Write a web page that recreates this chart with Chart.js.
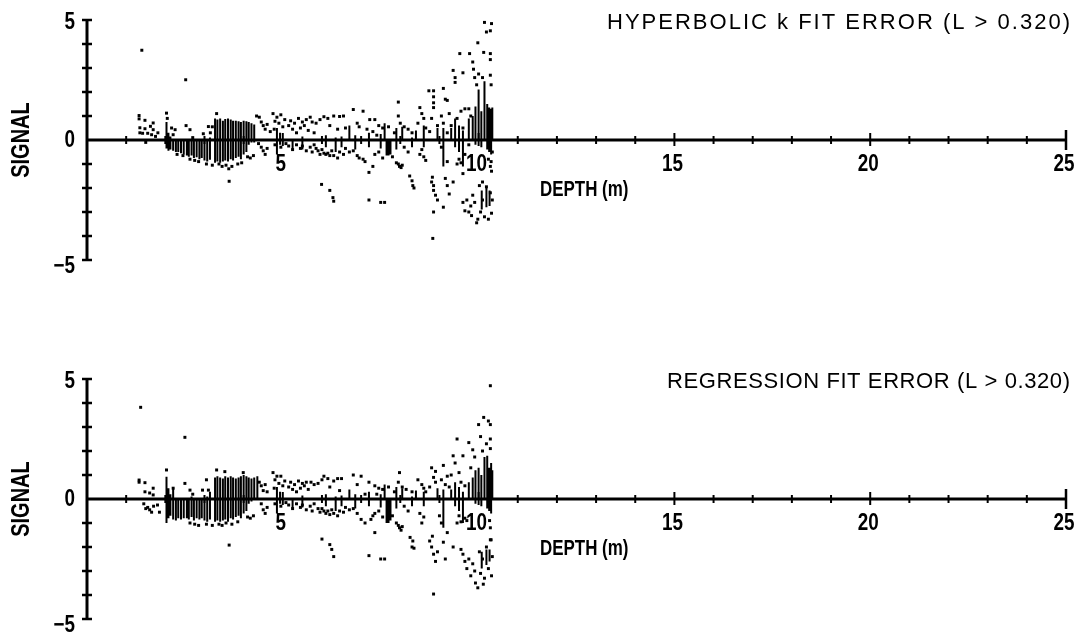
<!DOCTYPE html>
<html>
<head>
<meta charset="utf-8">
<script src="https://cdn.jsdelivr.net/npm/chart.js@4.4.1/dist/chart.umd.min.js"></script>
<style>
  html, body { margin: 0; padding: 0; background: #fff; }
  #wrap { position: relative; width: 1086px; height: 633px; }
  canvas { position: absolute; left: 0; }
</style>
</head>
<body>
<div id="wrap">
  <canvas id="hyperbolic" width="1086" height="316" style="top:0"></canvas>
  <canvas id="regression" width="1086" height="317" style="top:316px"></canvas>
</div>
<script>
// Axis ranges and labelled ticks
const DEPTH_MIN = 0, DEPTH_MAX = 25;
const SIGNAL_MIN = -5, SIGNAL_MAX = 5;
const DEPTH_LABELS = [5, 10, 15, 20, 25];
const SIGNAL_LABELS = [5, 0, -5];
const X_TITLE = "DEPTH (m)";
const Y_TITLE = "SIGNAL";
const HYPERBOLIC_TITLE = "HYPERBOLIC k FIT ERROR (L > 0.320)";
const REGRESSION_TITLE = "REGRESSION FIT ERROR (L > 0.320)";

// Hyperbolic k fit error: single samples [depth, signal]
const hyperbolicDots = [
  [1.40,3.74],[1.33,1.02],[1.33,0.88],[1.35,0.51],[1.35,0.30],[1.48,0.82],[1.48,0.47],[1.42,0.28],[1.55,0.28],
  [1.62,0.57],[1.65,0.22],[1.69,0.71],[1.69,0.43],[1.81,0.30],[1.75,0.15],[1.50,-0.10],
  [2.03,1.12],[2.05,0.90],[2.16,0.50],[2.20,0.22],[2.25,0.43],[2.53,0.60],[2.63,0.43],[2.52,2.51],[2.30,-0.60],[2.45,-0.65],
  [2.63,-0.80],[2.75,-0.85],[2.85,-0.90],[2.97,0.26],[3.10,0.56],[2.70,0.10],
  [3.31,1.10],[3.05,-1.00],[3.20,-1.05],[3.37,-1.00],[3.45,-1.10],[3.20,0.55],[3.15,0.30],
  [3.63,-1.72],[3.55,-1.05],[3.70,-1.10],[3.85,-1.00],[3.62,-1.20],[3.95,-0.95],
  [4.33,1.00],[4.40,0.95],[4.45,0.75],[4.50,0.60],[4.55,0.45],[4.60,0.65],[4.68,0.35],[4.10,-0.70],[4.17,-0.75],
  [4.25,-0.65],[4.45,-0.30],[4.50,-0.45],[4.55,-0.60],[4.60,-0.35],[4.38,-0.15],
  [4.75,1.10],[4.80,0.78],[4.85,0.95],[4.90,0.70],[4.95,1.05],[5.00,0.55],[5.05,0.85],[4.78,0.45],[4.95,-0.30],[5.08,-0.15],[4.80,-0.20],
  [5.15,0.60],[5.20,0.80],[5.25,0.45],[5.30,0.70],[5.40,0.90],[5.45,0.50],[5.50,0.75],[5.55,0.60],[5.60,0.85],[5.70,0.95],
  [5.75,0.75],[5.85,0.70],[5.95,0.85],[5.35,0.30],[5.65,0.40],[5.80,0.30],
  [5.15,-0.25],[5.25,-0.40],[5.35,-0.20],[5.45,-0.35],[5.50,-0.25],[5.60,-0.45],[5.70,-0.30],[5.75,-0.50],[5.80,-0.20],
  [5.90,-0.45],[5.95,-0.60],[5.85,-0.35],
  [6.05,0.97],[6.15,0.90],[6.30,1.00],[6.45,0.98],[6.55,1.00],[6.20,0.60],[6.40,0.45],[6.60,0.50],[6.80,1.27],[6.90,0.70],[6.95,0.55],
  [6.00,-0.40],[6.05,-0.55],[6.10,-0.60],[6.15,-0.55],[6.20,-0.65],[6.25,-0.45],[6.30,-0.65],[6.40,-0.75],[6.45,-0.50],
  [6.55,-0.60],[6.60,-0.35],[6.70,-0.50],[6.80,-0.45],[6.90,-0.65],[6.95,-0.75],[5.99,-1.85],[6.20,-2.10],[6.28,-2.40],[6.30,-2.55],
  [7.05,1.20],[7.22,0.85],[7.35,0.85],[7.15,0.45],[7.30,0.35],[7.45,0.60],[7.55,0.50],[7.70,0.55],[7.85,0.30],[7.95,1.58],[7.95,1.00],[7.40,0.20],
  [7.05,-0.80],[7.10,-0.90],[7.20,-1.35],[7.30,-1.10],[7.35,-0.60],[7.45,-0.50],[7.55,-0.75],[7.80,-0.70],[7.20,-2.50],
  [7.50,-2.60],[7.60,-2.60],[7.95,-1.00],[7.98,-1.10],[8.02,-1.15],[8.05,-1.05],[7.90,-0.95],
  [8.00,0.70],[8.10,0.55],[8.20,0.45],[8.30,0.30],[8.50,1.35],[8.55,1.10],[8.60,0.90],[8.45,0.70],[8.65,0.50],[8.73,2.05],
  [8.85,2.05],[8.85,1.80],[8.85,1.55],[8.85,1.35],[8.80,0.90],[8.95,0.60],[8.75,0.35],
  [8.10,-0.30],[8.20,-0.50],[8.24,-1.50],[8.30,-1.70],[8.32,-1.90],[8.35,-2.00],[8.55,-0.40],[8.60,-0.70],[8.65,-0.85],
  [8.80,-1.75],[8.85,-1.90],[8.85,-2.10],[8.90,-2.30],[8.82,-1.55],[8.85,-3.00],[8.83,-4.10],[8.95,-2.50],[8.50,-0.60],
  [9.10,2.15],[9.15,1.70],[9.20,1.65],[9.35,2.90],[9.40,2.60],[9.40,2.40],[9.52,3.60],[9.60,2.80],[9.05,1.00],[9.10,0.70],
  [9.25,1.10],[9.30,0.60],[9.45,0.90],[9.55,1.20],[9.65,1.30],[9.60,0.50],[9.20,0.30],
  [9.05,-0.30],[9.15,-1.60],[9.20,-1.90],[9.25,-2.25],[9.10,-2.80],[9.35,-1.75],[9.50,-0.80],[9.55,-0.95],[9.65,-0.60],
  [9.45,-1.00],[9.20,-0.90],[9.60,-1.40],
  [9.77,3.60],[9.85,3.25],[9.87,2.95],[9.90,2.60],[9.98,4.05],[10.15,4.90],[10.20,4.50],[10.30,4.55],[10.33,4.85],
  [10.13,3.65],[10.30,3.60],[10.30,3.35],[10.30,2.70],[10.32,2.30],[10.10,2.60],[9.95,2.30],[10.00,2.75],[9.75,1.30],[9.80,1.00],
  [9.75,-0.20],[10.25,-0.80],[10.30,-1.10],[10.35,-0.50],[10.32,-0.90],[10.33,-1.30],
  [9.60,-2.60],[9.65,-2.95],[9.70,-2.50],[9.80,-2.75],[9.82,-3.15],[9.85,-2.30],[9.90,-2.60],[9.95,-3.45],[9.98,-3.30],
  [10.02,-1.90],[10.05,-3.00],[10.10,-2.50],[10.15,-3.20],[10.20,-1.95],[10.25,-3.30],[10.30,-2.20],[10.33,-3.05],
  [10.35,-2.50],[10.10,-1.75],[9.75,-3.00]
];

// Hyperbolic k fit error: densely sampled runs [depth, low, high]
const hyperbolicRuns = [
  [2.03,-0.35,0.75],[2.08,-0.45,0.30],[2.13,-0.40,0.15],[2.20,-0.45,0.00],[2.27,-0.50,0.00],[2.33,-0.50,0.00],
  [2.40,-0.55,0.00],[2.47,-0.60,0.00],[2.55,-0.65,0.00],[2.60,-0.70,0.00],[2.67,-0.65,0.00],[2.73,-0.75,0.00],
  [2.80,-0.72,0.00],[2.87,-0.80,0.00],[2.93,-0.75,0.00],[3.00,-0.85,0.00],[3.07,-0.90,0.00],[3.14,-0.82,0.10],
  [3.27,-0.95,0.90],[3.33,-0.90,0.85],[3.40,-0.95,0.90],[3.47,-0.90,0.80],[3.53,-0.85,0.88],[3.60,-0.90,0.90],
  [3.67,-0.80,0.85],[3.73,-0.85,0.80],[3.80,-0.75,0.80],[3.87,-0.70,0.78],[3.93,-0.80,0.75],[4.00,-0.60,0.80],
  [4.07,-0.50,0.78],[4.13,-0.20,0.75],[4.20,-0.10,0.70],[4.27,-0.10,0.65],[4.85,-0.60,0.50],[4.93,-0.20,0.30],
  [5.25,-0.45,0.00],[5.50,-0.40,0.15],[6.70,0.00,0.60],[6.10,-0.30,0.20],[6.35,-0.50,0.10],[6.50,-0.30,0.15],
  [6.85,-0.40,0.20],[7.20,-0.30,0.30],[7.60,0.00,0.70],[7.65,-0.65,0.00],[7.70,-0.65,0.00],[7.75,-0.60,0.00],
  [7.90,-0.40,0.50],[7.50,-0.35,0.25],[8.05,0.00,0.55],[8.40,0.00,0.40],[8.60,-0.30,0.60],[8.95,0.00,0.50],
  [8.30,-0.30,0.10],[9.10,-1.10,0.50],[9.40,-0.30,0.90],[9.50,-0.50,0.60],[9.60,-1.10,0.40],[9.30,0.00,0.50],
  [9.75,0.00,0.90],[9.85,0.00,1.00],[9.92,-0.20,1.40],[10.00,0.00,2.10],[10.07,-0.30,1.20],[10.15,0.00,2.45],
  [10.22,-0.40,1.50],[10.27,-0.50,1.35],[10.32,-0.60,1.30],[10.35,0.00,1.35],
  [10.08,-2.90,-2.10],[10.20,-2.80,-2.00],[10.28,-2.75,-2.10]
];

// Regression fit error: single samples [depth, signal]
const regressionDots = [
  [1.37,3.82],[1.33,0.79],[1.33,0.70],[1.48,0.68],[1.48,0.30],[1.69,0.45],[1.69,0.17],[1.60,0.25],
  [1.45,-0.20],[1.55,-0.35],[1.60,-0.45],[1.70,-0.30],[1.50,-0.40],[1.80,-0.25],[1.85,-0.55],[1.65,-0.55],
  [2.03,1.21],[2.20,0.45],[2.50,0.65],[2.63,0.37],[2.50,2.57],[2.10,-0.40],
  [2.63,-1.00],[2.75,-1.05],[2.85,-1.10],[2.95,0.37],[3.10,0.37],[3.05,0.80],[2.70,0.20],
  [3.31,1.21],[3.05,-1.05],[3.20,-1.10],[3.37,-1.05],[3.45,-1.10],[3.52,1.14],
  [3.63,-1.92],[3.55,-1.00],[3.70,-1.05],[3.85,-0.95],[3.99,1.10],
  [4.40,0.70],[4.45,0.55],[4.50,0.35],[4.55,0.60],[4.60,0.30],[4.10,-0.75],[4.17,-0.80],[4.25,-0.70],[4.45,-0.20],
  [4.50,-0.45],[4.55,-0.60],[4.60,-0.35],
  [4.75,1.10],[4.80,0.80],[4.85,0.95],[4.90,0.65],[4.95,0.95],[5.00,0.55],[5.05,0.75],[4.78,0.45],[4.95,-0.30],[5.08,-0.15],[4.80,-0.20],
  [5.15,0.50],[5.20,0.70],[5.25,0.40],[5.30,0.60],[5.40,0.75],[5.45,0.45],[5.50,0.65],[5.55,0.55],[5.60,0.70],[5.72,0.70],
  [5.80,0.60],[5.90,0.65],[6.00,0.80],[5.35,0.30],[5.65,0.40],
  [5.15,-0.25],[5.25,-0.40],[5.35,-0.20],[5.45,-0.35],[5.50,-0.25],[5.60,-0.45],[5.70,-0.30],[5.75,-0.50],[5.80,-0.20],
  [5.90,-0.40],[5.95,-0.55],
  [6.05,0.95],[6.15,0.85],[6.30,0.75],[6.40,0.85],[6.50,0.85],[6.20,0.50],[6.45,0.35],[6.80,1.00],[6.90,0.60],[7.00,0.95],
  [6.00,-0.40],[6.05,-0.50],[6.10,-0.60],[6.15,-0.50],[6.20,-0.65],[6.25,-0.45],[6.30,-0.60],[6.40,-0.70],[6.45,-0.50],
  [6.55,-0.55],[6.60,-0.35],[6.70,-0.45],[6.80,-0.40],[6.90,-0.60],[6.00,-1.67],[6.20,-1.90],[6.25,-2.10],[6.30,-2.40],
  [7.20,0.70],[7.35,0.55],[7.10,0.20],[7.45,0.45],[7.55,0.40],[7.70,0.50],[7.85,0.30],[7.98,1.10],[7.95,0.70],[7.40,0.20],
  [7.00,-0.85],[7.10,-1.00],[7.25,-0.85],[7.30,-0.70],[7.35,-0.60],[7.45,-0.50],[7.55,-0.75],[7.80,-0.70],[7.20,-2.36],
  [7.50,-2.50],[7.60,-2.50],[7.95,-1.10],[7.98,-1.20],[8.02,-1.30],[8.05,-1.15],[7.90,-1.00],[7.35,-1.40],
  [8.05,0.50],[8.15,0.40],[8.30,0.30],[8.45,0.80],[8.55,0.60],[8.60,0.45],[8.80,1.30],[8.90,1.15],[8.85,0.90],[8.90,0.70],
  [8.65,0.30],[8.75,0.50],
  [8.10,-0.30],[8.20,-0.50],[8.25,-1.60],[8.30,-2.00],[8.32,-1.75],[8.35,-2.05],[8.50,-0.60],[8.55,-1.00],[8.60,-0.75],
  [8.75,-1.75],[8.80,-2.00],[8.85,-2.30],[8.90,-2.60],[8.82,-1.55],[8.85,-3.96],[8.95,-2.20],
  [9.10,1.40],[9.20,0.95],[9.35,1.80],[9.40,1.50],[9.45,2.50],[9.60,1.80],[9.05,0.80],[9.15,0.60],[9.25,0.50],[9.30,1.00],
  [9.50,1.10],[9.55,0.70],[9.65,0.55],
  [9.00,-0.70],[9.05,-1.00],[9.10,-1.80],[9.15,-2.50],[9.35,-2.00],[9.50,-0.70],[9.55,-0.95],[9.65,-0.80],[9.45,-1.00],
  [9.20,-1.40],[9.70,-0.90],
  [9.75,2.35],[9.85,2.05],[9.90,1.75],[10.13,3.40],[10.00,3.10],[10.30,4.72],[10.30,3.10],[10.25,3.25],[10.30,2.50],
  [10.30,2.10],[10.20,2.30],[10.05,2.60],[9.80,1.30],[10.10,2.00],
  [9.55,-2.10],[9.60,-2.30],[9.65,-2.60],[9.70,-2.90],[9.75,-2.50],[9.80,-3.20],[9.85,-2.70],[9.90,-3.00],[9.92,-3.50],
  [9.98,-3.70],[10.02,-2.20],[10.05,-3.10],[10.10,-2.50],[10.15,-3.30],[10.20,-2.00],[10.25,-2.90],[10.30,-1.70],
  [10.33,-3.20],[10.35,-2.40],[10.12,-3.55],[10.32,-1.70],[10.28,-0.90],[10.30,-1.20]
];

// Regression fit error: densely sampled runs [depth, low, high]
const regressionRuns = [
  [2.03,-1.00,0.93],[2.08,-0.80,0.45],[2.13,-0.70,0.20],[2.20,-0.85,0.45],[2.27,-0.90,0.00],[2.33,-0.80,0.00],
  [2.40,-0.85,0.00],[2.47,-0.80,0.00],[2.55,-0.80,0.00],[2.60,-0.85,0.00],[2.67,-0.75,0.10],[2.73,-0.90,0.00],
  [2.80,-0.80,0.00],[2.87,-0.85,0.00],[2.93,-0.80,0.00],[3.00,-0.90,0.00],[3.07,-0.95,0.10],[3.14,-0.85,0.30],
  [3.27,-0.95,0.90],[3.33,-0.90,0.95],[3.40,-0.95,0.90],[3.47,-0.90,0.85],[3.53,-0.85,0.95],[3.60,-0.95,0.90],
  [3.67,-0.80,0.95],[3.73,-0.85,0.90],[3.80,-0.75,0.85],[3.87,-0.70,0.90],[3.93,-0.80,0.95],[4.00,-0.60,1.00],
  [4.07,-0.50,0.95],[4.13,-0.20,0.90],[4.20,-0.10,0.85],[4.27,0.00,0.90],[4.35,0.00,0.95],[4.85,-0.60,0.50],
  [4.93,-0.20,0.30],[5.25,-0.40,0.00],[5.50,-0.35,0.15],[6.70,0.00,0.40],[6.10,-0.30,0.20],[6.35,-0.50,0.10],
  [6.50,-0.30,0.15],[6.85,-0.40,0.20],[7.20,-0.30,0.30],[7.60,0.00,0.60],[7.65,-1.00,0.00],[7.70,-1.00,0.00],
  [7.75,-0.90,0.00],[7.90,-0.40,0.50],[7.50,-0.35,0.20],[8.05,0.00,0.45],[8.40,0.00,0.35],[8.60,-0.30,0.30],
  [8.95,0.00,0.45],[8.30,-0.30,0.10],[9.10,-1.20,0.40],[9.40,-0.30,0.70],[9.50,-0.50,0.50],[9.60,-1.00,0.30],
  [9.30,0.00,0.40],[9.75,0.00,0.70],[9.85,0.00,0.90],[9.92,-0.20,1.20],[10.00,0.00,1.30],[10.07,-0.30,1.00],
  [10.15,0.00,1.75],[10.22,-0.40,1.80],[10.27,-0.50,1.30],[10.32,-0.60,1.50],[10.35,0.00,1.20],
  [10.08,-2.90,-2.20],[10.20,-2.75,-2.10],[10.28,-2.60,-2.10]
];

const SANS = '"Liberation Sans",Arial,sans-serif';

// Text squeezed horizontally to give the condensed lettering of the axes
function condensedText(ctx, text, x, y, align, font, squeeze, angle) {
  ctx.save();
  ctx.translate(x, y);
  if (angle) ctx.rotate(angle);
  ctx.scale(squeeze, 1);
  ctx.font = font;
  ctx.textAlign = align;
  ctx.textBaseline = 'middle';
  ctx.fillText(text, 0, 0);
  ctx.restore();
}

// Axes drawn through the origin, with cross ticks, labels and the panel title
function crossAxes(title, titleLeft) {
  return {
    id: 'crossAxes',
    afterDatasetsDraw(chart) {
      const ctx = chart.ctx, xs = chart.scales.x, ys = chart.scales.y;
      const x0 = xs.getPixelForValue(DEPTH_MIN), xEnd = xs.getPixelForValue(DEPTH_MAX);
      const y0 = ys.getPixelForValue(0);
      const yTop = ys.getPixelForValue(SIGNAL_MAX), yBot = ys.getPixelForValue(SIGNAL_MIN);
      const seg = (a, b, c, d, w) => { ctx.lineWidth = w; ctx.beginPath(); ctx.moveTo(a, b); ctx.lineTo(c, d); ctx.stroke(); };
      ctx.save();
      ctx.strokeStyle = '#000';
      ctx.fillStyle = '#000';
      ctx.lineCap = 'butt';

      // vertical axis with cross ticks at every unit
      seg(x0, yTop, x0, yBot, 3);
      for (let v = SIGNAL_MIN; v <= SIGNAL_MAX; v++) {
        if (v === 0) continue;
        const py = ys.getPixelForValue(v);
        seg(x0 - 5, py, x0 + 5, py, 2.5);
      }
      // horizontal axis with cross ticks at every unit
      seg(x0, y0, xEnd + 1, y0, 3);
      for (let v = DEPTH_MIN + 1; v <= DEPTH_MAX; v++) {
        const px = xs.getPixelForValue(v);
        if (v === DEPTH_MAX) seg(px, y0 - 10, px, y0 + 10, 2.5);
        else if (v % 5 === 0) seg(px, y0 - 7, px, y0 + 6, 2);
        else seg(px, y0 - 4, px, y0 + 4, 2);
      }

      // tick labels
      const tickFont = 'bold 23px ' + SANS;
      DEPTH_LABELS.forEach(v =>
        condensedText(ctx, String(v), xs.getPixelForValue(v) - 2, y0 + 25, 'center', tickFont, 0.82));
      SIGNAL_LABELS.forEach(v => {
        const dy = v > 0 ? 3 : (v < 0 ? 7 : 1);
        const txt = v < 0 ? '\u2212' + Math.abs(v) : String(v);
        condensedText(ctx, txt, x0 - 12, ys.getPixelForValue(v) + dy, 'right', tickFont, 0.82);
      });

      // axis titles
      condensedText(ctx, X_TITLE, 540, y0 + 50, 'left', 'bold 22px ' + SANS, 0.77);
      condensedText(ctx, Y_TITLE, 22, y0, 'center', 'bold 25px ' + SANS, 0.8, -Math.PI / 2);

      // panel title, right aligned and spread over its span
      ctx.font = '22px ' + SANS;
      ctx.textBaseline = 'middle';
      const right = 1070;
      const plainW = ctx.measureText(title).width;
      const gap = Math.max(0, (right - titleLeft - plainW) / (title.length - 1));
      ctx.textAlign = 'left';
      let cx = titleLeft;
      for (const ch of title) {
        ctx.fillText(ch, cx, yTop + 3);
        cx += ctx.measureText(ch).width + gap;
      }
      ctx.restore();
    }
  };
}

function buildPanel(id, dots, runs, title, titleLeft, padding) {
  const runPoints = [];
  runs.forEach(([d, lo, hi]) => {
    runPoints.push({ x: d, y: lo }, { x: d, y: hi }, { x: d, y: null });
  });
  return new Chart(document.getElementById(id), {
    type: 'scatter',
    data: {
      datasets: [
        { data: runPoints, showLine: true, spanGaps: false, borderColor: '#000', borderWidth: 2,
          pointRadius: 0, borderCapStyle: 'butt' },
        { data: dots.map(([x, y]) => ({ x, y })), pointStyle: 'rect', pointRadius: 2.1,
          backgroundColor: '#000', borderWidth: 0 }
      ]
    },
    options: {
      responsive: false,
      animation: false,
      devicePixelRatio: 1,
      events: [],
      layout: { padding },
      scales: {
        x: { type: 'linear', min: DEPTH_MIN, max: DEPTH_MAX, display: false },
        y: { type: 'linear', min: SIGNAL_MIN, max: SIGNAL_MAX, display: false }
      },
      plugins: { legend: { display: false }, tooltip: { enabled: false }, title: { display: false } }
    },
    plugins: [crossAxes(title, titleLeft)]
  });
}

buildPanel('hyperbolic', hyperbolicDots, hyperbolicRuns, HYPERBOLIC_TITLE, 607,
  { left: 87, right: 20, top: 20, bottom: 56 });
buildPanel('regression', regressionDots, regressionRuns, REGRESSION_TITLE, 667,
  { left: 87, right: 20, top: 63, bottom: 14 });
</script>
</body>
</html>
